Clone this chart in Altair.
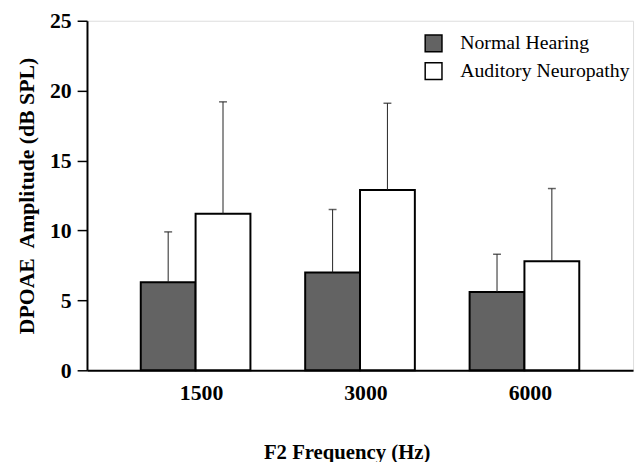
import altair as alt
import pandas as pd

freqs = ["1500", "3000", "6000"]
groups = ["Normal Hearing", "Auditory Neuropathy"]
nh_mean = [6.3, 7.0, 5.6]
nh_top = [9.9, 11.5, 8.3]
an_mean = [11.2, 12.9, 7.8]
an_top = [19.2, 19.1, 13.0]

rows = []
for i, f in enumerate(freqs):
    rows.append({"freq": f, "group": groups[0], "mean": nh_mean[i], "top": nh_top[i]})
    rows.append({"freq": f, "group": groups[1], "mean": an_mean[i], "top": an_top[i]})
df = pd.DataFrame(rows)

SERIF = "Liberation Serif"

x = alt.X("freq:N", sort=freqs,
          scale=alt.Scale(paddingInner=0.333, paddingOuter=0.327),
          axis=alt.Axis(title="F2 Frequency (Hz)", labelAngle=0, ticks=False,
                        domainColor="black", domainWidth=2,
                        labelFont=SERIF, labelFontSize=22, labelFontWeight="bold",
                        labelColor="black", labelPadding=13, labelOffset=6,
                        titleFont=SERIF, titleFontSize=21, titleFontWeight="bold",
                        titleColor="black", titlePadding=38, titleX=263))
xo = alt.XOffset("group:N", sort=groups, scale=alt.Scale(paddingInner=0, paddingOuter=0))
y = alt.Y("mean:Q", scale=alt.Scale(domain=[0, 25], nice=False),
          axis=alt.Axis(title="DPOAE\u00a0 Amplitude (dB SPL)",
                        values=[i * 2.5 for i in range(11)],
                        tickSize={"condition": {"test": "datum.value % 5 === 0", "value": 10}, "value": 7},
                        tickColor="black", tickWidth=1.5,
                        labelExpr="datum.value % 5 === 0 ? datum.label : ''",
                        labelFont=SERIF, labelFontSize=22, labelFontWeight="bold",
                        labelColor="black", labelPadding=6, grid=False,
                        domainColor="black", domainWidth=2,
                        titleFont=SERIF, titleFontSize=22, titleFontWeight="bold",
                        titleColor="black", titlePadding=11))

bars = alt.Chart(df).mark_bar(stroke="black", strokeWidth=2).encode(
    x=x, xOffset=xo, y=y,
    fill=alt.Fill("group:N", sort=groups,
                  scale=alt.Scale(domain=groups, range=["#636363", "white"]),
                  legend=alt.Legend(title=None, orient="none", legendX=341, legendY=13,
                                    symbolType="square", symbolSize=289,
                                    symbolStrokeColor="black", symbolStrokeWidth=1.5,
                                    labelFont=SERIF, labelFontSize=20, labelColor="black",
                                    labelOffset=17, rowPadding=4, labelLimit=300))
)

err = alt.Chart(df).mark_rule(color="#222", strokeWidth=1).encode(
    x=alt.X("freq:N", sort=freqs), xOffset=alt.XOffset("group:N", sort=groups),
    y="mean:Q", y2="top:Q")

caps = alt.Chart(df).mark_tick(color="#222", orient="horizontal", size=8, thickness=1.5).encode(
    x=alt.X("freq:N", sort=freqs), xOffset=alt.XOffset("group:N", sort=groups),
    y="top:Q")

chart = alt.layer(bars, err, caps).properties(
    width=553, height=354,
    autosize=alt.AutoSizeParams(type="none"),
    padding={"left": 80, "top": 10, "right": 3, "bottom": 94},
).configure_view(stroke="black", strokeWidth=1.5).configure(background="white")

chart.save("out.html", embed_options={"renderer": "svg", "actions": False})
